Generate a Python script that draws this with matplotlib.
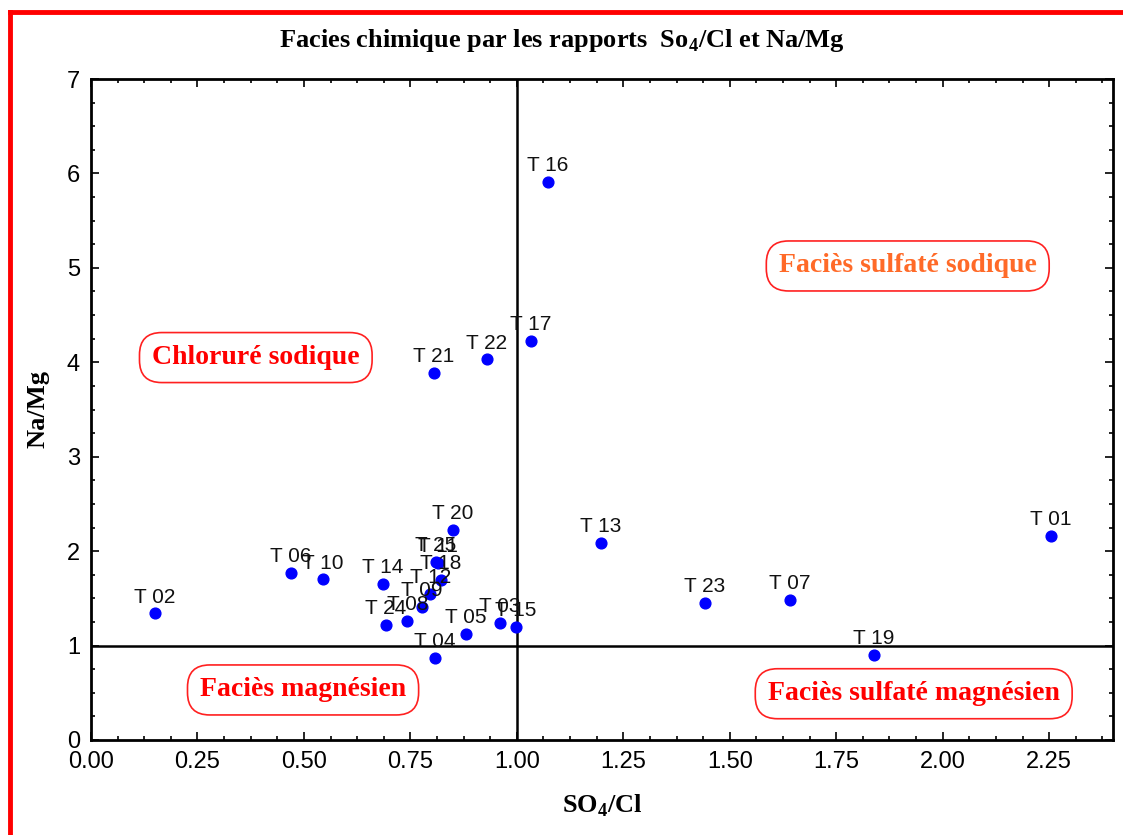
import matplotlib
matplotlib.use('Agg')
import matplotlib.pyplot as plt
from matplotlib.lines import Line2D
from matplotlib.ticker import MultipleLocator, FormatStrFormatter

# sample points
ids = ['T 01', 'T 02', 'T 03', 'T 04', 'T 05', 'T 06', 'T 07', 'T 08', 'T 09', 'T 10',
       'T 11', 'T 12', 'T 13', 'T 14', 'T 15', 'T 16', 'T 17', 'T 18', 'T 19', 'T 20',
       'T 21', 'T 22', 'T 23', 'T 24', 'T 25']
so4_cl = [2.254, 0.150, 0.961, 0.808, 0.880, 0.469, 1.641, 0.743, 0.777, 0.545,
          0.815, 0.797, 1.197, 0.685, 0.998, 1.073, 1.033, 0.822, 1.838, 0.850,
          0.805, 0.930, 1.441, 0.692, 0.810]
na_mg = [2.16, 1.34, 1.24, 0.87, 1.12, 1.77, 1.48, 1.26, 1.41, 1.70,
         1.87, 1.55, 2.09, 1.65, 1.20, 5.91, 4.23, 1.69, 0.90, 2.22,
         3.89, 4.03, 1.45, 1.22, 1.89]

zone_names = ['Chloruré sodique', 'Faciès sulfaté sodique', 'Faciès magnésien', 'Faciès sulfaté magnésien']
zone_x = [0.387, 1.918, 0.498, 1.932]
zone_y = [4.05, 5.02, 0.53, 0.49]
zone_colors = ['#ff0000', '#ff6a28', '#ff0000', '#ff0000']

serif = 'Liberation Serif'
sans = 'Liberation Sans'

plt.rcParams['mathtext.fontset'] = 'custom'
plt.rcParams['mathtext.rm'] = 'Liberation Serif:bold'
plt.rcParams['mathtext.bf'] = 'Liberation Serif:bold'

fig = plt.figure(figsize=(11.23, 8.35), dpi=100)
ax = fig.add_axes([91 / 1123, 1 - 740 / 835, (1113 - 91) / 1123, (740 - 79) / 835])

ax.scatter(so4_cl, na_mg, s=60, color='#0000ff', zorder=3)
for name, x, y in zip(ids, so4_cl, na_mg):
    ax.annotate(name, (x, y), xytext=(0, 5), textcoords='offset points',
                ha='center', va='bottom', fontsize=15, family=sans, color='#111111', zorder=4)

ax.axvline(1.0, color='black', lw=1.8, zorder=2)
ax.axhline(1.0, color='black', lw=1.8, zorder=2)

for name, x, y, c in zip(zone_names, zone_x, zone_y, zone_colors):
    ax.text(x, y, name, ha='center', va='center', fontsize=20, fontweight='bold',
            family=serif, color=c, zorder=5,
            bbox=dict(boxstyle='round,pad=0.45,rounding_size=0.8', fc='white', ec='#ff2020', lw=1.2))

ax.set_xlim(0, 2.4)
ax.set_ylim(0, 7)
ax.xaxis.set_major_locator(MultipleLocator(0.25))
ax.xaxis.set_minor_locator(MultipleLocator(0.0625))
ax.xaxis.set_major_formatter(FormatStrFormatter('%.2f'))
ax.yaxis.set_major_locator(MultipleLocator(1))
ax.yaxis.set_minor_locator(MultipleLocator(0.25))
ax.tick_params(which='both', direction='in', top=True, right=True, width=1.2)
ax.tick_params(which='major', length=6, labelsize=17, pad=8)
ax.tick_params(which='minor', length=3)
for lab in ax.get_xticklabels() + ax.get_yticklabels():
    lab.set_family(sans)
for sp in ax.spines.values():
    sp.set_linewidth(2)

ax.set_xlabel('SO$_4$/Cl', fontsize=19, fontweight='bold', family=serif, labelpad=14)
ax.set_ylabel('Na/Mg', fontsize=19, fontweight='bold', family=serif, labelpad=12)

fig.text(0.5, 1 - 40 / 835, 'Facies chimique par les rapports  So$_4$/Cl et Na/Mg',
         ha='center', va='center', fontsize=19, fontweight='bold', family=serif)

# red frame around the figure
fig.add_artist(Line2D([10 / 1123, 10 / 1123], [0, 1 - 12 / 835], color='#ff0000', lw=3.5))
fig.add_artist(Line2D([10 / 1123, 1], [1 - 12 / 835, 1 - 12 / 835], color='#ff0000', lw=3.5))

fig.savefig('out.png', dpi=100)
